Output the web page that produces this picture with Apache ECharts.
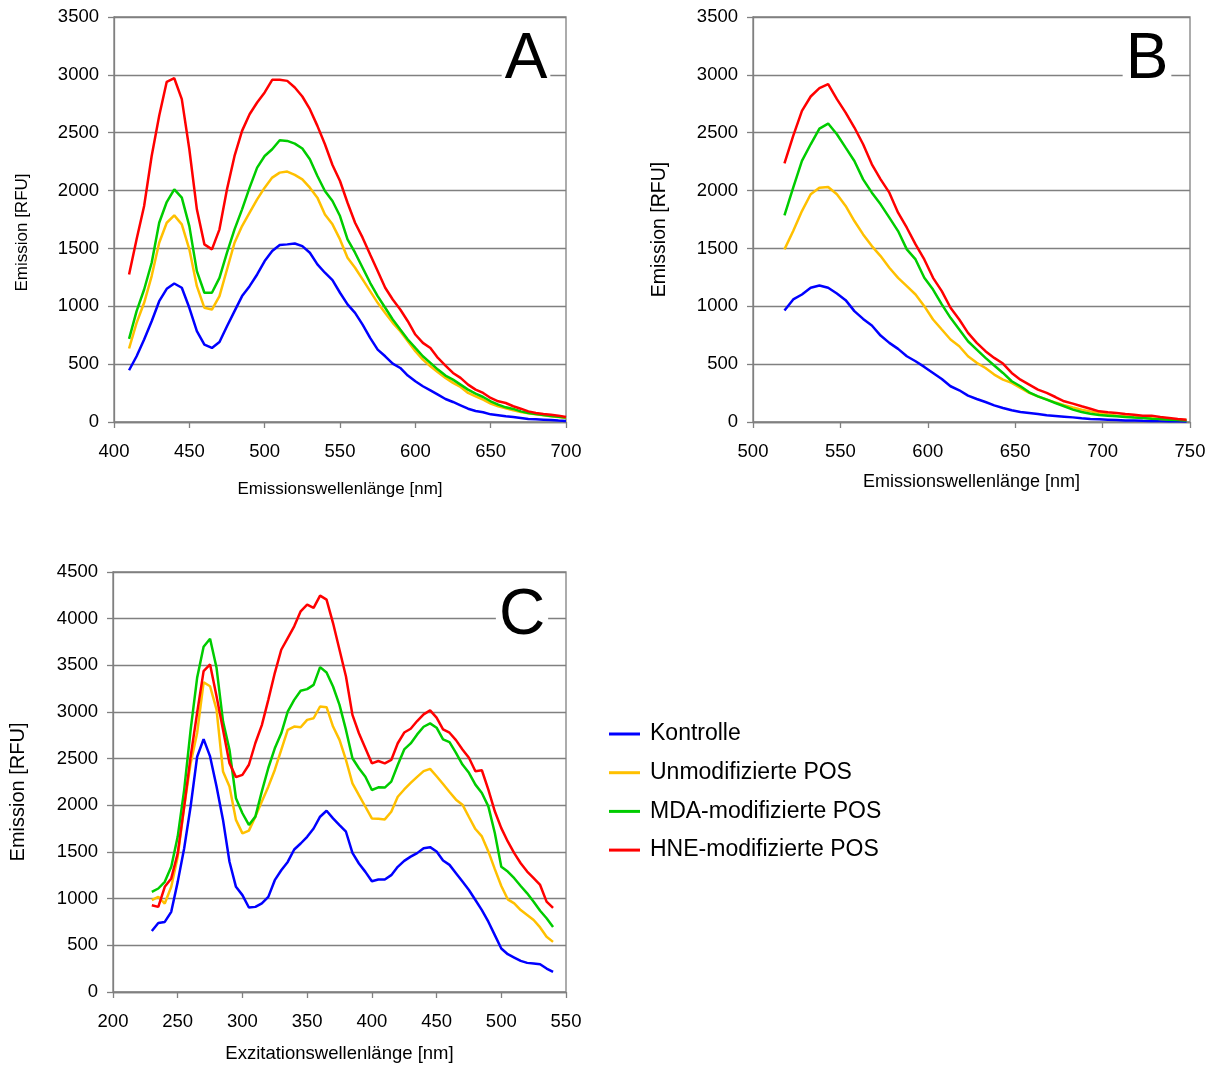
<!DOCTYPE html>
<html lang="de">
<head>
  <meta charset="utf-8">
  <title>Fluoreszenzspektren POS</title>
  <style>
    * {
      margin: 0;
      padding: 0;
    }

    #chart-container {
      width: 1215px;
      height: 1066px;
      background: #fff;
    }
  </style>
</head>
<body>
  <div id="chart-container"></div>
  <script src="https://cdn.jsdelivr.net/npm/echarts@6/dist/echarts.min.js"></script>
  <script>
    var dom = document.getElementById('chart-container');
    var myChart = echarts.init(dom, null, { renderer: 'canvas' });

    // Serien-Namen und Farben
    const names = ['Kontrolle', 'Unmodifizierte POS', 'MDA-modifizierte POS', 'HNE-modifizierte POS'];
    const colors = ['#0000FF', '#FFC000', '#00CC00', '#FF0000'];

    // A: Emissionsspektren 410-700 nm
    const wlA = [410, 415, 420, 425, 430, 435, 440, 445, 450, 455, 460, 465, 470, 475, 480, 485, 490, 495, 500, 505,
      510, 515, 520, 525, 530, 535, 540, 545, 550, 555, 560, 565, 570, 575, 580, 585, 590, 595, 600, 605,
      610, 615, 620, 625, 630, 635, 640, 645, 650, 655, 660, 665, 670, 675, 680, 685, 690, 695, 700];
    const kontrolleA = [447, 568, 713, 871, 1044, 1151, 1197, 1160, 987, 785, 669, 640, 692, 828, 958, 1088, 1174, 1275, 1391, 1477,
      1529, 1535, 1543, 1520, 1463, 1362, 1290, 1226, 1117, 1016, 943, 842, 727, 626, 568, 505, 467, 401, 352, 309,
      274, 237, 199, 173, 144, 115, 95, 84, 66, 58, 49, 43, 35, 26, 23, 20, 17, 12, 9];
    const unmodA = [635, 857, 1030, 1261, 1549, 1722, 1786, 1708, 1492, 1174, 987, 972, 1088, 1318, 1549, 1693, 1809, 1924, 2025, 2112,
      2155, 2164, 2135, 2097, 2025, 1939, 1794, 1708, 1578, 1419, 1333, 1232, 1131, 1030, 943, 857, 785, 698, 612, 539,
      482, 430, 381, 338, 303, 251, 222, 193, 159, 136, 118, 101, 87, 75, 66, 58, 49, 43, 35];
    const mdaA = [718, 958, 1145, 1376, 1722, 1901, 2011, 1939, 1693, 1304, 1117, 1117, 1246, 1463, 1665, 1838, 2025, 2198, 2299, 2357,
      2435, 2429, 2406, 2363, 2270, 2126, 1996, 1910, 1780, 1578, 1463, 1333, 1203, 1088, 987, 886, 799, 713, 640, 568,
      511, 453, 401, 366, 323, 280, 245, 216, 179, 150, 127, 113, 92, 78, 69, 61, 52, 46, 38];
    const hneA = [1275, 1580, 1867, 2299, 2646, 2940, 2971, 2790, 2357, 1838, 1535, 1492, 1665, 2011, 2299, 2516, 2660, 2761, 2848, 2957,
      2957, 2948, 2891, 2813, 2703, 2559, 2400, 2221, 2083, 1895, 1722, 1593, 1448, 1304, 1160, 1059, 972, 871, 756, 684,
      640, 554, 488, 424, 381, 323, 280, 251, 208, 179, 164, 136, 115, 92, 78, 69, 63, 55, 43];

    // B: Emissionsspektren 518-748 nm
    const wlB = [518, 523, 528, 533, 538, 543, 548, 553, 558, 563, 568, 573, 578, 583, 588, 593, 598, 603, 608, 613,
      618, 623, 628, 633, 638, 643, 648, 653, 658, 663, 668, 673, 678, 683, 688, 693, 698, 703, 708, 713,
      718, 723, 728, 733, 738, 743, 748];
    const kontrolleB = [964, 1059, 1102, 1160, 1180, 1160, 1111, 1053, 958, 891, 834, 747, 684, 632, 568, 525, 476, 424, 372, 309,
      274, 228, 199, 173, 144, 121, 101, 87, 78, 69, 58, 52, 46, 40, 32, 26, 23, 20, 17, 14,
      12, 10, 9, 8, 7, 6, 5];
    const unmodB = [1492, 1650, 1823, 1968, 2025, 2031, 1968, 1867, 1737, 1621, 1520, 1434, 1333, 1246, 1174, 1102, 1001, 886, 799, 713,
      655, 568, 511, 467, 410, 366, 338, 294, 251, 222, 195, 168, 145, 125, 107, 92, 78, 66, 55, 49,
      43, 38, 32, 26, 23, 20, 17];
    const mdaB = [1786, 2025, 2256, 2400, 2536, 2579, 2487, 2371, 2256, 2097, 1982, 1881, 1766, 1650, 1492, 1405, 1246, 1145, 1016, 900,
      799, 698, 626, 554, 488, 424, 352, 309, 257, 222, 193, 164, 136, 107, 87, 72, 61, 55, 49, 43,
      38, 35, 29, 26, 20, 17, 12];
    const hneB = [2236, 2472, 2689, 2813, 2885, 2920, 2790, 2674, 2545, 2400, 2227, 2097, 1982, 1809, 1679, 1535, 1405, 1246, 1131, 987,
      886, 770, 684, 612, 554, 505, 424, 366, 323, 280, 251, 216, 179, 159, 136, 115, 92, 84, 78, 69,
      63, 55, 55, 43, 35, 26, 20];

    // C: Exzitationsspektren 230-540 nm
    const wlC = [230, 235, 240, 245, 250, 255, 260, 265, 270, 275, 280, 285, 290, 295, 300, 305, 310, 315, 320, 325,
      330, 335, 340, 345, 350, 355, 360, 365, 370, 375, 380, 385, 390, 395, 400, 405, 410, 415, 420, 425,
      430, 435, 440, 445, 450, 455, 460, 465, 470, 475, 480, 485, 490, 495, 500, 505, 510, 515, 520, 525,
      530, 535, 540];
    const kontrolleC = [654, 740, 751, 859, 1180, 1540, 1990, 2520, 2710, 2524, 2202, 1844, 1396, 1127, 1038, 905, 912, 950, 1019, 1198,
      1305, 1394, 1527, 1591, 1663, 1752, 1878, 1942, 1860, 1788, 1717, 1491, 1377, 1287, 1187, 1205, 1205, 1252, 1341, 1405,
      1450, 1488, 1541, 1552, 1506, 1409, 1362, 1273, 1183, 1093, 986, 878, 753, 609, 466, 405, 369, 333, 312, 305,
      298, 251, 215];
    const unmodC = [984, 1020, 948, 1127, 1450, 1987, 2452, 2775, 3319, 3276, 3026, 2363, 2202, 1844, 1700, 1729, 1879, 2040, 2200, 2379,
      2593, 2808, 2844, 2837, 2916, 2933, 3059, 3052, 2844, 2701, 2486, 2236, 2110, 1985, 1860, 1856, 1849, 1931, 2092, 2170,
      2240, 2305, 2366, 2391, 2312, 2229, 2143, 2061, 2007, 1875, 1746, 1667, 1506, 1316, 1136, 993, 950, 878, 825, 771,
      692, 592, 537];
    const mdaC = [1073, 1109, 1181, 1342, 1665, 2166, 2811, 3366, 3699, 3785, 3473, 2900, 2596, 2076, 1915, 1790, 1879, 2150, 2400, 2611,
      2772, 3005, 3130, 3227, 3245, 3291, 3481, 3424, 3273, 3077, 2808, 2504, 2397, 2307, 2164, 2193, 2190, 2254, 2432, 2599,
      2663, 2760, 2842, 2878, 2832, 2706, 2677, 2563, 2437, 2348, 2222, 2133, 1989, 1703, 1341, 1290, 1219, 1136, 1057, 968,
      870, 790, 697];
    const hneC = [930, 912, 1127, 1217, 1486, 1987, 2524, 2990, 3438, 3509, 3169, 2811, 2452, 2302, 2327, 2435, 2668, 2860, 3130, 3417,
      3667, 3792, 3918, 4079, 4150, 4115, 4247, 4204, 3953, 3667, 3381, 2969, 2772, 2611, 2450, 2475, 2450, 2486, 2665, 2780,
      2821, 2903, 2975, 3018, 2939, 2814, 2778, 2699, 2599, 2509, 2366, 2376, 2169, 1936, 1756, 1613, 1488, 1380, 1290, 1219,
      1147, 968, 901];

    var fontFamily = '"Liberation Sans", Arial, sans-serif';
    var gridColor = '#808080';

    function plain(v) {
      return String(v);
    }

    function panelSeries(idx, xs, sets) {
      return sets.map(function (ys, k) {
        return {
          name: names[k],
          type: 'line',
          xAxisIndex: idx,
          yAxisIndex: idx,
          data: ys.map(function (v, i) { return [xs[i], v]; }),
          symbol: 'none',
          color: colors[k],
          lineStyle: { width: 2.5 },
          animation: false
        };
      });
    }

    function xAxisDef(idx, min, max, title, titleSize, gap) {
      return {
        type: 'value',
        gridIndex: idx,
        min: min,
        max: max,
        interval: 50,
        name: title,
        nameLocation: 'middle',
        nameGap: gap,
        nameTextStyle: { color: '#000', fontSize: titleSize, fontFamily: fontFamily },
        axisLine: { lineStyle: { color: gridColor, width: 1.3 } },
        axisTick: { length: 6, lineStyle: { color: gridColor, width: 1.3 } },
        axisLabel: { color: '#000', fontSize: 18.5, fontFamily: fontFamily, margin: 20, formatter: plain },
        splitLine: { show: false }
      };
    }

    // shift: Titel etwas unterhalb der Achsenmitte
    function yAxisDef(idx, max, titleSize, gap, shift) {
      return {
        type: 'value',
        gridIndex: idx,
        min: 0,
        max: max,
        interval: 500,
        name: 'Emission [RFU]',
        nameLocation: 'middle',
        nameGap: gap,
        nameTextStyle: { color: '#000', fontSize: titleSize, fontFamily: fontFamily, padding: [0, shift * 2, 0, 0] },
        axisLine: { show: true, lineStyle: { color: gridColor, width: 1.3 } },
        axisTick: { show: true, length: 6, lineStyle: { color: gridColor, width: 1.3 } },
        axisLabel: { color: '#000', fontSize: 18.5, fontFamily: fontFamily, margin: 15, formatter: plain },
        splitLine: { lineStyle: { color: gridColor, width: 1.3 } }
      };
    }

    function letter(text, x, y) {
      return {
        type: 'text',
        x: x,
        y: y,
        z: 100,
        style: {
          text: text,
          fontSize: 64,
          fontFamily: fontFamily,
          fill: '#000',
          align: 'center',
          verticalAlign: 'middle',
          backgroundColor: '#fff',
          padding: [0, 3],
          lineHeight: 56
        }
      };
    }

    var option = {
      backgroundColor: '#fff',
      animation: false,
      grid: [
        { left: 114, top: 17, width: 452, height: 405, show: true, borderColor: gridColor, borderWidth: 1.3 },
        { left: 753, top: 17, width: 437, height: 405, show: true, borderColor: gridColor, borderWidth: 1.3 },
        { left: 113, top: 572, width: 453, height: 420, show: true, borderColor: gridColor, borderWidth: 1.3 }
      ],
      xAxis: [
        xAxisDef(0, 400, 700, 'Emissionswellenlänge [nm]', 17, 59),
        xAxisDef(1, 500, 750, 'Emissionswellenlänge [nm]', 18, 51),
        xAxisDef(2, 200, 550, 'Exzitationswellenlänge [nm]', 18.5, 52)
      ],
      yAxis: [
        yAxisDef(0, 3500, 17, 83, 13),
        yAxisDef(1, 3500, 19.5, 83, 10),
        yAxisDef(2, 4500, 20, 85, 10)
      ],
      legend: {
        orient: 'vertical',
        left: 604,
        top: 717,
        icon: 'rect',
        itemWidth: 31,
        itemHeight: 3,
        itemGap: 14.7,
        selectedMode: false,
        data: names,
        textStyle: { color: '#000', fontSize: 23, lineHeight: 24, fontFamily: fontFamily, padding: [0, 0, 0, 5] }
      },
      graphic: [
        letter('A', 526, 60),
        letter('B', 1147, 60),
        letter('C', 522, 616)
      ],
      series: [].concat(
        panelSeries(0, wlA, [kontrolleA, unmodA, mdaA, hneA]),
        panelSeries(1, wlB, [kontrolleB, unmodB, mdaB, hneB]),
        panelSeries(2, wlC, [kontrolleC, unmodC, mdaC, hneC])
      )
    };

    myChart.setOption(option);
    window.addEventListener('resize', myChart.resize);
  </script>
</body>
</html>
